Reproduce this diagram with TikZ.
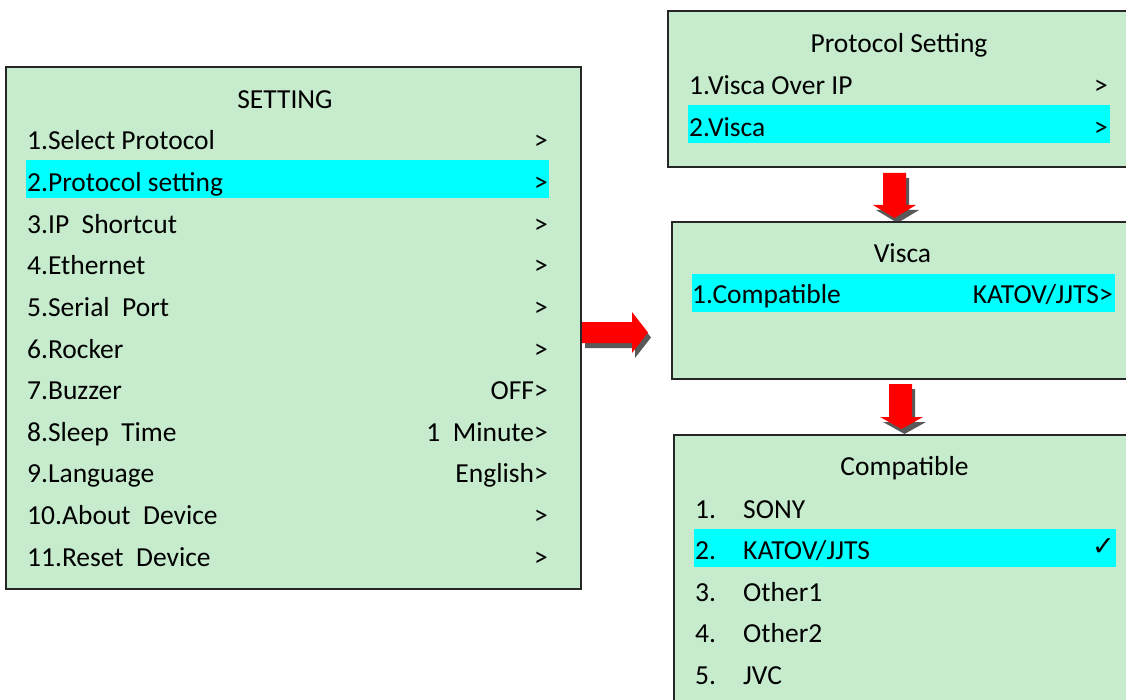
\documentclass[tikz,border=0pt]{standalone}
\usepackage{fontspec}
\setmainfont{Carlito}
\newfontfamily\symfont{DejaVu Sans}
\definecolor{panel}{RGB}{199,235,205}
\definecolor{hl}{RGB}{0,255,255}
\definecolor{shade}{RGB}{89,89,89}
\definecolor{arrowred}{RGB}{255,0,0}
\begin{document}
\begin{tikzpicture}[x=1pt,y=-1pt,
  panelbox/.style={draw=black!85, line width=1.4pt, fill=panel},
  hlbar/.style={fill=hl},
  lbl/.style={font=\fontsize{27.5}{33}\selectfont, inner sep=0pt, anchor=base west},
  rlbl/.style={lbl, anchor=base east},
  ttl/.style={lbl, anchor=base},
  blockred/.style={fill=arrowred},
  blockshade/.style={fill=shade},
]
\path[use as bounding box] (0,0) rectangle (1126,700);
\clip (0,0) rectangle (1126,700);

% ---------- arrows (behind boxes) ----------
\begin{scope}[shift={(3,5)}]
\fill[blockshade] (582,322)--(632,322)--(632,312)--(648,332.5)--(632,353)--(632,343)--(582,343)--cycle;
\fill[blockshade] (883,173)--(906,173)--(906,205)--(916,205)--(894.5,218)--(873,205)--(883,205)--cycle;
\fill[blockshade] (889,384)--(912,384)--(912,417)--(923,417)--(901.5,429)--(880,417)--(889,417)--cycle;
\end{scope}
\fill[blockred] (582,322)--(632,322)--(632,312)--(648,332.5)--(632,353)--(632,343)--(582,343)--cycle;
\fill[blockred] (883,173)--(906,173)--(906,205)--(916,205)--(894.5,218)--(873,205)--(883,205)--cycle;
\fill[blockred] (889,384)--(912,384)--(912,417)--(923,417)--(901.5,429)--(880,417)--(889,417)--cycle;

% ---------- SETTING box ----------
\draw[panelbox] (6,67) rectangle (581,589);
\fill[hlbar] (26,160) rectangle (549,198);
\node[ttl] (settitle) at (285,109) {SETTING};
\foreach \i/\t/\r in {
  1/{1.Select Protocol}/{>},
  2/{2.Protocol setting}/{>},
  3/{3.IP\ \ Shortcut}/{>},
  4/{4.Ethernet}/{>},
  5/{5.Serial\ \ Port}/{>},
  6/{6.Rocker}/{>},
  7/{7.Buzzer}/{OFF>},
  8/{8.Sleep\ \ Time}/{1\ \ Minute>},
  9/{9.Language}/{English>},
  10/{10.About\ \ Device}/{>},
  11/{11.Reset\ \ Device}/{>}}{
  \node[lbl] (s\i) at (27,{150+41.6*(\i-1)}) {\t};
  \node[rlbl] (sv\i) at (548,{150+41.6*(\i-1)}) {\r};
}

% ---------- Protocol Setting box ----------
\draw[panelbox] (668,11) rectangle (1140,167);
\fill[hlbar] (688,105) rectangle (1110,143);
\node[ttl] (ptitle) at (899,53) {Protocol Setting};
\node[lbl] (p1) at (689,95) {1.Visca Over IP};
\node[rlbl] (pv1) at (1108,95) {>};
\node[lbl] (p2) at (689,136.5) {2.Visca};
\node[rlbl] (pv2) at (1108,136.5) {>};

% ---------- Visca box ----------
\draw[panelbox] (672,222) rectangle (1140,379);
\fill[hlbar] (692,274) rectangle (1115,312);
\node[ttl] (vtitle) at (902.5,263) {Visca};
\node[lbl] (v1) at (692,304) {1.Compatible};
\node[rlbl] (vv1) at (1113,304) {KATOV/JJTS>};

% ---------- Compatible box ----------
\draw[panelbox] (674,435) rectangle (1140,720);
\fill[hlbar] (694,529) rectangle (1116,567);
\node[ttl] (ctitle) at (904.5,475) {Compatible};
\foreach \i/\t in {1/SONY, 2/KATOV\slash JJTS, 3/Other1, 4/Other2, 5/JVC}{
  \node[lbl] (cn\i) at (695,{518+41.6*(\i-1)}) {\i.};
  \node[lbl] (c\i) at (743,{518+41.6*(\i-1)}) {\t};
}
\node[rlbl, font=\symfont\fontsize{27}{30}\selectfont] (check) at (1115,555) {✓};
\end{tikzpicture}
\end{document}
